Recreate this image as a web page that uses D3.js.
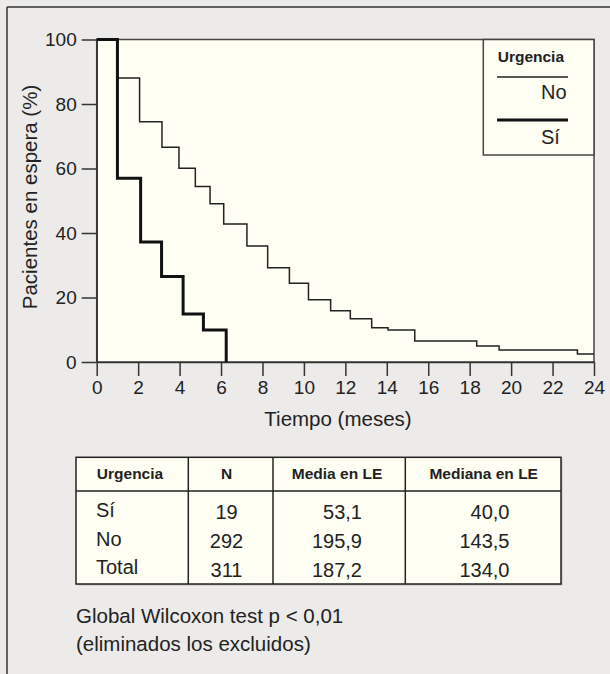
<!DOCTYPE html>
<html>
<head>
<meta charset="utf-8">
<script src="https://cdn.jsdelivr.net/npm/d3@7"></script>
<style>
  html, body { margin: 0; padding: 0; background: #ECEBE9; }
  svg { display: block; }
  text { font-family: "Liberation Sans", Arial, sans-serif; fill: #222; }
</style>
</head>
<body>
<script>
// ---- Data ----
const xTicks = [0, 2, 4, 6, 8, 10, 12, 14, 16, 18, 20, 22, 24];
const yTicks = [0, 20, 40, 60, 80, 100];
// Urgencia = Sí (step times in months, % still waiting)
const siTimes  = [0, 1.0, 2.12, 3.13, 4.17, 5.15, 6.25];
const siValues = [100, 57.0, 37.2, 26.5, 14.9, 9.9, 0];
// Urgencia = No
const noTimes  = [0, 1.0, 2.07, 3.15, 3.97, 4.76, 5.47, 6.13, 7.25, 8.25, 9.3, 10.22, 11.29, 12.24, 13.27, 14.06, 15.35, 18.34, 19.42, 23.2, 24];
const noValues = [100, 88.1, 74.5, 66.6, 60.1, 54.4, 49.1, 42.8, 36.0, 29.2, 24.4, 19.3, 15.9, 13.4, 10.6, 9.9, 6.5, 5.0, 3.7, 2.5, 2.5];
const legendTitle = "Urgencia";
const legendLabels = ["No", "Sí"];
const xTitle = "Tiempo (meses)";
const yTitle = "Pacientes en espera (%)";
const tableHeaders = ["Urgencia", "N", "Media en LE", "Mediana en LE"];
const tableGroups = ["Sí", "No", "Total"];
const tableN = ["19", "292", "311"];
const tableMedia = ["53,1", "195,9", "187,2"];
const tableMediana = ["40,0", "143,5", "134,0"];
const footnotes = ["Global Wilcoxon test p < 0,01", "(eliminados los excluidos)"];

// ---- Layout ----
const W = 610, H = 674;
const cream = "#FFFFF3";
const ink = "#2a2a2a";
const svg = d3.select("body").append("svg").attr("width", W).attr("height", H);

svg.append("rect").attr("width", W).attr("height", H).attr("fill", "#ECEBE9");
// outer frame lines
svg.append("line").attr("x1", 7).attr("x2", W + 5).attr("y1", 7).attr("y2", 7)
  .attr("stroke", "#333").attr("stroke-width", 1.5);
svg.append("line").attr("x1", 7).attr("x2", 7).attr("y1", 7).attr("y2", H + 5)
  .attr("stroke", "#333").attr("stroke-width", 1.5);

const plot = { left: 96.7, right: 594, top: 39.5, bottom: 362 };
const x = d3.scaleLinear().domain([0, 24]).range([plot.left, plot.right]);
const y = d3.scaleLinear().domain([0, 100]).range([plot.bottom, plot.top]);

svg.append("rect")
  .attr("x", plot.left).attr("y", plot.top)
  .attr("width", plot.right - plot.left).attr("height", plot.bottom - plot.top)
  .attr("fill", cream).attr("stroke", "#444").attr("stroke-width", 1.5);

// axes
const yAxis = svg.append("g").attr("transform", `translate(${plot.left},0)`)
  .call(d3.axisLeft(y).tickValues(yTicks).tickSize(15).tickPadding(5).tickSizeOuter(0));
const xAxis = svg.append("g").attr("transform", `translate(0,${plot.bottom})`)
  .call(d3.axisBottom(x).tickValues(xTicks).tickSize(14).tickPadding(5).tickSizeOuter(0));
[xAxis, yAxis].forEach(g => {
  g.select(".domain").attr("stroke", "#333").attr("stroke-width", 1.5);
  g.selectAll(".tick line").attr("stroke", "#333").attr("stroke-width", 1.5);
  g.selectAll(".tick text").attr("font-size", 19).attr("fill", ink)
    .style("font-family", '"Liberation Sans", Arial, sans-serif');
});

// curves
const line = d3.line().x(d => x(d[0])).y(d => y(d[1])).curve(d3.curveStepAfter);
svg.append("path").datum(noTimes.map((t, i) => [t, noValues[i]]))
  .attr("d", line).attr("fill", "none").attr("stroke", "#222").attr("stroke-width", 1.5);
svg.append("path").datum(siTimes.map((t, i) => [t, siValues[i]]))
  .attr("d", line).attr("fill", "none").attr("stroke", "#111").attr("stroke-width", 3);

// axis titles
svg.append("text").attr("x", 338).attr("y", 425.5).attr("text-anchor", "middle")
  .attr("font-size", 20.5).text(xTitle);
svg.append("text").attr("transform", "translate(36.5,197) rotate(-90)")
  .attr("text-anchor", "middle").attr("font-size", 20.5).text(yTitle);

// legend
const lg = svg.append("g");
lg.append("rect").attr("x", 483.3).attr("y", plot.top).attr("width", plot.right - 483.3)
  .attr("height", 155 - plot.top).attr("fill", cream).attr("stroke", "#444").attr("stroke-width", 1.5);
lg.append("text").attr("x", 497.7).attr("y", 62).attr("font-size", 15.5).attr("font-weight", "bold")
  .text(legendTitle);
lg.append("line").attr("x1", 497).attr("x2", 568).attr("y1", 77).attr("y2", 77)
  .attr("stroke", "#222").attr("stroke-width", 1.5);
lg.append("text").attr("x", 541).attr("y", 98.5).attr("font-size", 20).text(legendLabels[0]);
lg.append("line").attr("x1", 497).attr("x2", 568).attr("y1", 120).attr("y2", 120)
  .attr("stroke", "#111").attr("stroke-width", 3);
lg.append("text").attr("x", 541).attr("y", 143.5).attr("font-size", 20).text(legendLabels[1]);

// table
const tb = { left: 76, right: 561, top: 457.3, head: 491, bottom: 584 };
const cols = [76, 188.3, 273, 405.3, 561];
const tg = svg.append("g");
tg.append("rect").attr("x", tb.left + 1.5).attr("y", tb.top + 1.5)
  .attr("width", tb.right - tb.left).attr("height", tb.bottom - tb.top)
  .attr("fill", "#bdbdbb");
tg.append("rect").attr("x", tb.left).attr("y", tb.top)
  .attr("width", tb.right - tb.left).attr("height", tb.bottom - tb.top)
  .attr("fill", cream).attr("stroke", "#222").attr("stroke-width", 1.5);
tg.append("line").attr("x1", tb.left).attr("x2", tb.right).attr("y1", tb.head).attr("y2", tb.head)
  .attr("stroke", "#222").attr("stroke-width", 1.5);
cols.slice(1, 4).forEach(c => {
  tg.append("line").attr("x1", c).attr("x2", c).attr("y1", tb.top).attr("y2", tb.bottom)
    .attr("stroke", "#222").attr("stroke-width", 1.5);
});
const headCenters = [130, 226.5, 337, 483.7];
tableHeaders.forEach((h, i) => {
  tg.append("text").attr("x", headCenters[i]).attr("y", 479).attr("text-anchor", "middle")
    .attr("font-size", 15.5).attr("font-weight", "bold").text(h);
});
const rowBase = [519, 548, 577];
const rowBase1 = [517, 545.5, 574];
tableGroups.forEach((g, i) => {
  tg.append("text").attr("x", 96).attr("y", rowBase1[i]).attr("font-size", 20).text(g);
  tg.append("text").attr("x", 226.5).attr("y", rowBase[i]).attr("text-anchor", "middle")
    .attr("font-size", 20).text(tableN[i]);
  tg.append("text").attr("x", 362).attr("y", rowBase[i]).attr("text-anchor", "end")
    .attr("font-size", 20).text(tableMedia[i]);
  tg.append("text").attr("x", 509.5).attr("y", rowBase[i]).attr("text-anchor", "end")
    .attr("font-size", 20).text(tableMediana[i]);
});

// footnotes
footnotes.forEach((f, i) => {
  svg.append("text").attr("x", 76).attr("y", 623 + i * 27.5).attr("font-size", 20.5).text(f);
});
</script>
</body>
</html>
